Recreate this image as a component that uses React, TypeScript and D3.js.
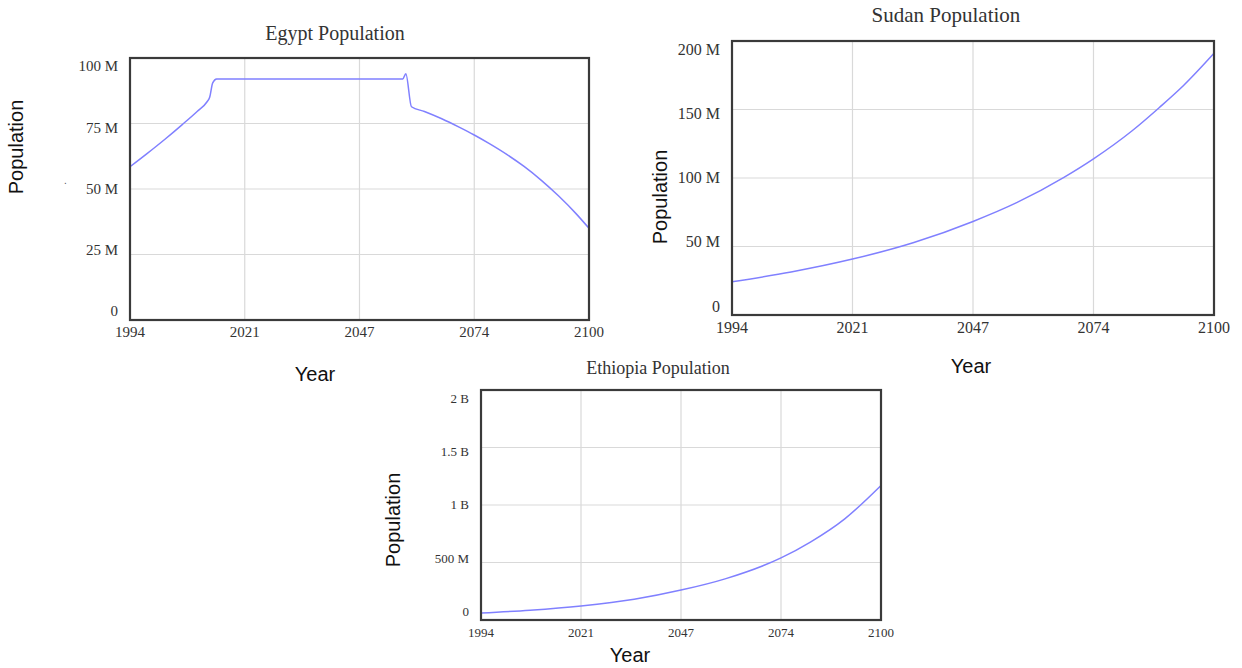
import React from "react";
import * as d3 from "d3";

// ---------- data ----------
const xTickValues = [1994, 2020.5, 2047, 2073.5, 2100];
const xTickLabels = ["1994", "2021", "2047", "2074", "2100"];

const egyptYears = [1994, 1998, 2002, 2006, 2009.5, 2011.8, 2012.4, 2013.1, 2014, 2057, 2057.7, 2059, 2062, 2066, 2070, 2073.5, 2077, 2081, 2085, 2089, 2093, 2097, 2100];
const egyptValues = [58.5, 63.6, 68.9, 74.5, 79.6, 83.3, 85, 90.5, 92, 92, 94, 81.4, 79.6, 76.8, 73.6, 70.6, 67.3, 63.2, 58.6, 53.3, 47.3, 40.6, 35].map((v) => v * 1e6);
const egyptYTicks = [0, 25e6, 50e6, 75e6, 100e6];
const egyptYTickLabels = ["0", "25 M", "50 M", "75 M", "100 M"];

const sudanYears = [1994, 2007, 2020.5, 2034, 2047, 2056.6, 2067, 2073.5, 2082, 2088, 2093.3, 2100];
const sudanValues = [24.3, 31.4, 40.8, 52.9, 68.3, 82, 100.5, 114, 134.5, 151.5, 167.5, 191].map((v) => v * 1e6);
const sudanYTicks = [0, 50e6, 100e6, 150e6, 200e6];
const sudanYTickLabels = ["0", "50 M", "100 M", "150 M", "200 M"];

const ethiopiaYears = [1994, 2007, 2020.5, 2034.6, 2047, 2058.9, 2073.5, 2081.4, 2090.4, 2100];
const ethiopiaValues = [0.06, 0.085, 0.122, 0.18, 0.26, 0.36, 0.54, 0.68, 0.88, 1.17].map((v) => v * 1e9);
const ethiopiaYTicks = [0, 0.5e9, 1e9, 1.5e9, 2e9];
const ethiopiaYTickLabels = ["0", "500 M", "1 B", "1.5 B", "2 B"];

// ---------- panel ----------
type PanelProps = {
  title: string;
  years: number[];
  values: number[];
  yTicks: number[];
  yTickLabels: string[];
  yMax: number;
  box: { x0: number; x1: number; y0: number; y1: number };
  titlePos: { x: number; y: number; size: number };
  tickSize: number;
  popPos: { x: number; y: number };
  yearPos: { x: number; y: number };
};

function Panel(p: PanelProps) {
  const { box } = p;
  const x = d3.scaleLinear().domain([1994, 2100]).range([box.x0, box.x1]);
  const y = d3.scaleLinear().domain([0, p.yMax]).range([box.y1, box.y0]);
  const yLab = d3.scaleLinear().domain([0, p.yMax]).range([box.y1 - 7, box.y0 + 10]);
  const pts = p.years.map((yr, i) => [yr, p.values[i]] as [number, number]);
  const line = d3
    .line<[number, number]>()
    .x((d) => x(d[0]))
    .y((d) => y(d[1]))
    .curve(d3.curveMonotoneX);
  const serif = "'Liberation Serif', 'Times New Roman', serif";
  const sans = "'Liberation Sans', Arial, sans-serif";
  return (
    <g>
      <text
        x={p.titlePos.x}
        y={p.titlePos.y}
        textAnchor="middle"
        dominantBaseline="middle"
        fontFamily={serif}
        fontSize={p.titlePos.size}
        fill="#333"
      >
        {p.title}
      </text>
      {xTickValues.map((v, i) => (
        <line key={"gx" + i} x1={x(v)} x2={x(v)} y1={box.y0} y2={box.y1} stroke="#d9d9d9" strokeWidth={1.2} />
      ))}
      {p.yTicks.map((v, i) => (
        <line key={"gy" + i} x1={box.x0} x2={box.x1} y1={y(v)} y2={y(v)} stroke="#d9d9d9" strokeWidth={1.2} />
      ))}
      <path d={line(pts) || ""} fill="none" stroke="#8080ff" strokeWidth={1.5} />
      <rect
        x={box.x0}
        y={box.y0}
        width={box.x1 - box.x0}
        height={box.y1 - box.y0}
        fill="none"
        stroke="#3a3a3a"
        strokeWidth={2.2}
      />
      {p.yTicks.map((v, i) => (
        <text
          key={"ty" + i}
          x={box.x0 - 12}
          y={yLab(v)}
          textAnchor="end"
          dominantBaseline="middle"
          fontFamily={serif}
          fontSize={p.tickSize}
          fill="#333"
        >
          {p.yTickLabels[i]}
        </text>
      ))}
      {xTickValues.map((v, i) => (
        <text
          key={"tx" + i}
          x={x(v)}
          y={box.y1 + 14}
          textAnchor="middle"
          dominantBaseline="middle"
          fontFamily={serif}
          fontSize={p.tickSize}
          fill="#333"
        >
          {xTickLabels[i]}
        </text>
      ))}
      <text
        transform={`translate(${p.popPos.x},${p.popPos.y}) rotate(-90)`}
        textAnchor="middle"
        dominantBaseline="middle"
        fontFamily={sans}
        fontSize={20}
        fill="#111"
      >
        Population
      </text>
      <text
        x={p.yearPos.x}
        y={p.yearPos.y}
        textAnchor="middle"
        dominantBaseline="middle"
        fontFamily={sans}
        fontSize={20}
        fill="#111"
      >
        Year
      </text>
    </g>
  );
}

export default function App() {
  return (
    <svg
      width={1242}
      height={668}
      style={{ position: "absolute", left: 0, top: 0, background: "#fff" }}
    >
      <rect x={0} y={0} width={1242} height={668} fill="#fff" />
      <Panel
        title="Egypt Population"
        years={egyptYears}
        values={egyptValues}
        yTicks={egyptYTicks}
        yTickLabels={egyptYTickLabels}
        yMax={100e6}
        box={{ x0: 130, x1: 589, y0: 58, y1: 320 }}
        titlePos={{ x: 335, y: 35, size: 20 }}
        tickSize={15}
        popPos={{ x: 18, y: 147 }}
        yearPos={{ x: 315, y: 376 }}
      />
      <text x={64} y={184} fontSize={10} fill="#555" fontFamily="'Liberation Sans', Arial, sans-serif">.</text>
      <Panel
        title="Sudan Population"
        years={sudanYears}
        values={sudanValues}
        yTicks={sudanYTicks}
        yTickLabels={sudanYTickLabels}
        yMax={200e6}
        box={{ x0: 732, x1: 1214, y0: 41, y1: 315 }}
        titlePos={{ x: 946, y: 17, size: 21 }}
        tickSize={16}
        popPos={{ x: 662, y: 197 }}
        yearPos={{ x: 971, y: 368 }}
      />
      <Panel
        title="Ethiopia Population"
        years={ethiopiaYears}
        values={ethiopiaValues}
        yTicks={ethiopiaYTicks}
        yTickLabels={ethiopiaYTickLabels}
        yMax={2e9}
        box={{ x0: 481, x1: 881, y0: 390, y1: 620 }}
        titlePos={{ x: 658, y: 370, size: 18 }}
        tickSize={13}
        popPos={{ x: 395, y: 520 }}
        yearPos={{ x: 630, y: 657 }}
      />
    </svg>
  );
}
